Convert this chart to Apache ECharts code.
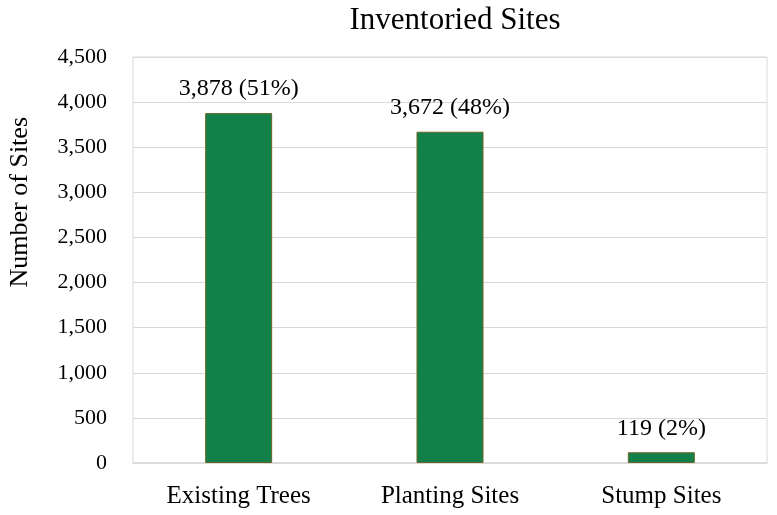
<!DOCTYPE html>
<html>
<head>
<meta charset="utf-8">
<script src="https://cdn.jsdelivr.net/npm/echarts@6/dist/echarts.min.js"></script>
<style>
  html, body { margin: 0; padding: 0; background: #fff; }
  #chart { width: 777px; height: 515px; }
</style>
</head>
<body>
<div id="chart"></div>
<script>
const categories = ['Existing Trees', 'Planting Sites', 'Stump Sites']
const siteCounts = [3878, 3672, 119]
const yTicks = [0, 500, 1000, 1500, 2000, 2500, 3000, 3500, 4000, 4500]

const total = siteCounts.reduce((a, b) => a + b, 0)
const serif = '"Liberation Serif", "DejaVu Serif", serif'

const chart = echarts.init(document.getElementById('chart'))
chart.setOption({
  animation: false,
  title: {
    text: 'Inventoried Sites',
    left: 450,
    textAlign: 'center',
    top: 0,
    textStyle: { fontFamily: serif, fontSize: 31, fontWeight: 'normal', color: '#000' }
  },
  graphic: [{
    type: 'text',
    left: 7,
    top: 117,
    rotation: Math.PI / 2,
    style: { text: 'Number of Sites', font: '26px ' + serif, fill: '#000' }
  }],
  grid: {
    left: 133,
    right: 10,
    top: 57,
    bottom: 52,
    show: true,
    borderColor: '#d9d9d9',
    borderWidth: 1
  },
  xAxis: {
    type: 'category',
    data: categories,
    axisTick: { show: false },
    axisLine: { lineStyle: { color: '#d9d9d9', width: 1.5 } },
    axisLabel: { margin: 21, fontFamily: serif, fontSize: 25, color: '#000' }
  },
  yAxis: {
    type: 'value',
    min: yTicks[0],
    max: yTicks[yTicks.length - 1],
    interval: 500,
    axisLine: { show: false },
    axisTick: { show: false },
    splitLine: { lineStyle: { color: '#d9d9d9', width: 1 } },
    axisLabel: {
      margin: 26,
      fontFamily: serif,
      fontSize: 22,
      color: '#000',
      formatter: v => v.toLocaleString('en-US')
    }
  },
  series: [{
    type: 'bar',
    data: siteCounts,
    barWidth: 67,
    itemStyle: { color: '#148049', borderColor: '#6b6526', borderWidth: 1 },
    label: {
      show: true,
      position: 'top',
      distance: 12,
      fontFamily: serif,
      fontSize: 24,
      color: '#000',
      formatter: p => p.value.toLocaleString('en-US') + ' (' + Math.round(p.value / total * 100) + '%)'
    }
  }]
})
</script>
</body>
</html>
